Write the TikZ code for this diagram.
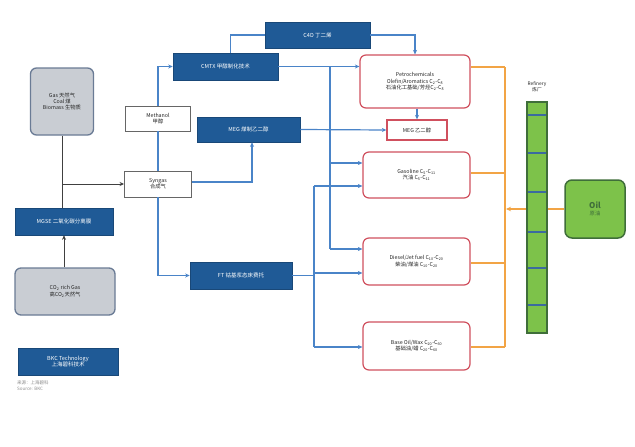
\documentclass[tikz,border=0pt]{standalone}
\usepackage{fontspec}
\setmainfont{Noto Sans CJK SC}
\usetikzlibrary{arrows.meta,positioning}
\definecolor{dblue}{HTML}{1F5A96}
\definecolor{lblue}{HTML}{4A84C8}
\definecolor{rbord}{HTML}{D0505E}
\definecolor{orng}{HTML}{F2A445}
\definecolor{gfill}{HTML}{7DC24A}
\definecolor{gbord}{HTML}{3F6E3A}
\definecolor{grfill}{HTML}{C9CDD3}
\definecolor{grbord}{HTML}{6A7B95}
\definecolor{txt}{HTML}{262626}
\begin{document}
\begin{tikzpicture}[x=1pt,y=-1pt,
  every node/.style={inner sep=1pt, align=center, font=\fontsize{5.3}{6.4}\selectfont, text=txt},
  bluebox/.style={draw=dblue!80!black, fill=dblue, text=white, line width=0.6pt, font=\fontsize{5.5}{6.5}\selectfont},
  greybox/.style={draw=grbord, fill=grfill, rounded corners=6pt, line width=1.3pt},
  whitebox/.style={draw=black!60, fill=white, line width=0.9pt},
  redbox/.style={draw=rbord, fill=white, rounded corners=6pt, line width=1.2pt},
  redsq/.style={draw=rbord, fill=white, line width=1.3pt},
  bl/.style={draw=lblue, line width=1.2pt},
  bla/.style={bl, -{Stealth[length=4.5pt,width=4pt]}},
  dk/.style={draw=black!75, line width=1pt},
  dka/.style={dk, -{Stealth[length=4.5pt,width=4pt]}},
  og/.style={draw=orng, line width=1.2pt},
  oga/.style={og, -{Stealth[length=5pt,width=4.5pt]}}
]
\useasboundingbox (0,0) rectangle (635,447);
\fill[white] (0,0) rectangle (635,447);

% left column
\node[greybox, minimum width=63pt, minimum height=67pt] (gas) at (62,101.5) {Gas 天然气\\Coal 煤\\Biomass 生物质};
\node[bluebox, minimum width=98pt, minimum height=27pt] (mgse) at (64,221.5) {MGSE 二氧化碳分离膜};
\node[greybox, minimum width=100pt, minimum height=47pt] (co2) at (65,291.5) {CO\textsubscript{2} rich Gas\\高CO\textsubscript{2}天然气};
\node[bluebox, minimum width=100pt, minimum height=27pt] (eko) at (68,361.5) {BKC Technology\\上海碧科技术};
\node[anchor=north west, text=black!45, font=\fontsize{4.5}{5.5}\selectfont, align=left] (src) at (16,380) {来源：上海碧科\\Source: BKC};

% middle
\node[whitebox, minimum width=65pt, minimum height=25pt] (meth) at (158,118.5) {Methanol\\甲醇};
\node[whitebox, minimum width=67pt, minimum height=26pt] (syn) at (158,184) {Syngas\\合成气};
\node[bluebox, minimum width=105pt, minimum height=27pt] (cmtx) at (225.5,66.5) {CMTX 甲醇制化技术};
\node[bluebox, minimum width=105pt, minimum height=26pt] (c4) at (317.5,35) {C4D 丁二烯};
\node[bluebox, minimum width=103pt, minimum height=25pt] (meg) at (248.5,129.5) {MEG 煤制乙二醇};
\node[bluebox, minimum width=102pt, minimum height=27pt] (ft) at (241,275.5) {FT 钴基浆态床费托};

% products
\node[redbox, minimum width=110pt, minimum height=53pt] (petro) at (415,81.5) {Petrochemicals\\Olefin/Aromatics C\textsubscript{2}-C\textsubscript{8}\\石油化工基础/芳烃C\textsubscript{2}-C\textsubscript{8}};
\node[redsq, minimum width=60pt, minimum height=20pt] (megr) at (417,130) {MEG 乙二醇};
\node[redbox, minimum width=107pt, minimum height=46pt] (gaso) at (416.5,175) {Gasoline C\textsubscript{5}-C\textsubscript{11}\\汽油 C\textsubscript{5}-C\textsubscript{11}};
\node[redbox, minimum width=107pt, minimum height=47pt] (dies) at (416.5,261.5) {Diesel/Jet fuel C\textsubscript{10}-C\textsubscript{20}\\柴油/煤油 C\textsubscript{10}-C\textsubscript{20}};
\node[redbox, minimum width=107pt, minimum height=48pt] (base) at (416.5,346) {Base Oil/Wax C\textsubscript{20}-C\textsubscript{60}\\基础油/蜡 C\textsubscript{20}-C\textsubscript{60}};

% refinery
\node[draw=gbord, fill=gfill, line width=1.2pt, minimum width=20pt, minimum height=231pt, inner sep=0pt] (ref) at (537,217.5) {};
\foreach \yy in {115,153,192,232,268,305}
  \draw[draw=lblue!80!black, line width=1.4pt] (528,\yy) -- (546,\yy);
\node[font=\fontsize{4.8}{5.8}\selectfont] (reflab) at (537,87) {Refinery\\炼厂};
\node[draw=gbord, fill=gfill, line width=1.5pt, rounded corners=7pt, minimum width=60pt, minimum height=58pt] (oil) at (595,209) {\textcolor{gbord}{\fontsize{8}{9}\selectfont\bfseries Oil}\\[1pt]\textcolor{gbord}{原油}};

% dark connectors (left)
\coordinate (j1) at (gas.south |- syn.west);
\draw[dk] (gas.south) -- (gas.south |- mgse.north);
\draw[dka] (j1) -- (syn.west);
\draw[dka] (co2.north -| mgse.south) -- (mgse.south);

% blue connectors
\draw[bl] (syn.north) -- (meth.south);
\draw[bla] (meth.north) |- (cmtx.west);
\draw[bl] ([xshift=5pt]cmtx.north) |- (c4.west);
\draw[bla] (c4.east) -| (petro.north);
\draw[bla] (cmtx.east) -- (cmtx.east -| petro.west);
\coordinate (v1top) at (330,66.5);
\coordinate (v1g) at (330,163);
\coordinate (v1d) at (330,249);
\draw[bl] (v1top) -- (v1d);
\draw[bla] (v1g) -- (v1g -| gaso.west);
\draw[bla] (v1d) -- (v1d -| dies.west);
\draw[bla] ([yshift=2pt]syn.east) -| (meg.south -| 252,0);
\draw[bla] (meg.east) -- (megr.west);
\draw[bla] (petro.south -| megr.north) -- (megr.north);
\draw[bla] (syn.south) |- (ft.west);
\coordinate (v2g) at (314,186);
\coordinate (v2d) at (314,273);
\coordinate (v2b) at (314,347);
\draw[bl] (ft.east) -- (ft.east -| v2g);
\draw[bl] (v2g) -- (v2b);
\draw[bla] (v2g) -- (v2g -| gaso.west);
\draw[bla] (v2d) -- (v2d -| dies.west);
\draw[bla] (v2b) -- (v2b -| base.west);

% orange connectors
\coordinate (o1) at (505,67);
\coordinate (o2) at (505,173);
\coordinate (o3) at (505,263);
\coordinate (o4) at (505,347);
\draw[og] (o1) -- (o4);
\draw[og] (o1) -- (o1 -| petro.east);
\draw[og] (o2) -- (o2 -| gaso.east);
\draw[og] (o3) -- (o3 -| dies.east);
\draw[og] (o4) -- (o4 -| base.east);
\draw[oga] (ref.west |- oil.west) -- (506,209);
\draw[og] (oil.west) -- (ref.east |- oil.west);
\end{tikzpicture}
\end{document}
